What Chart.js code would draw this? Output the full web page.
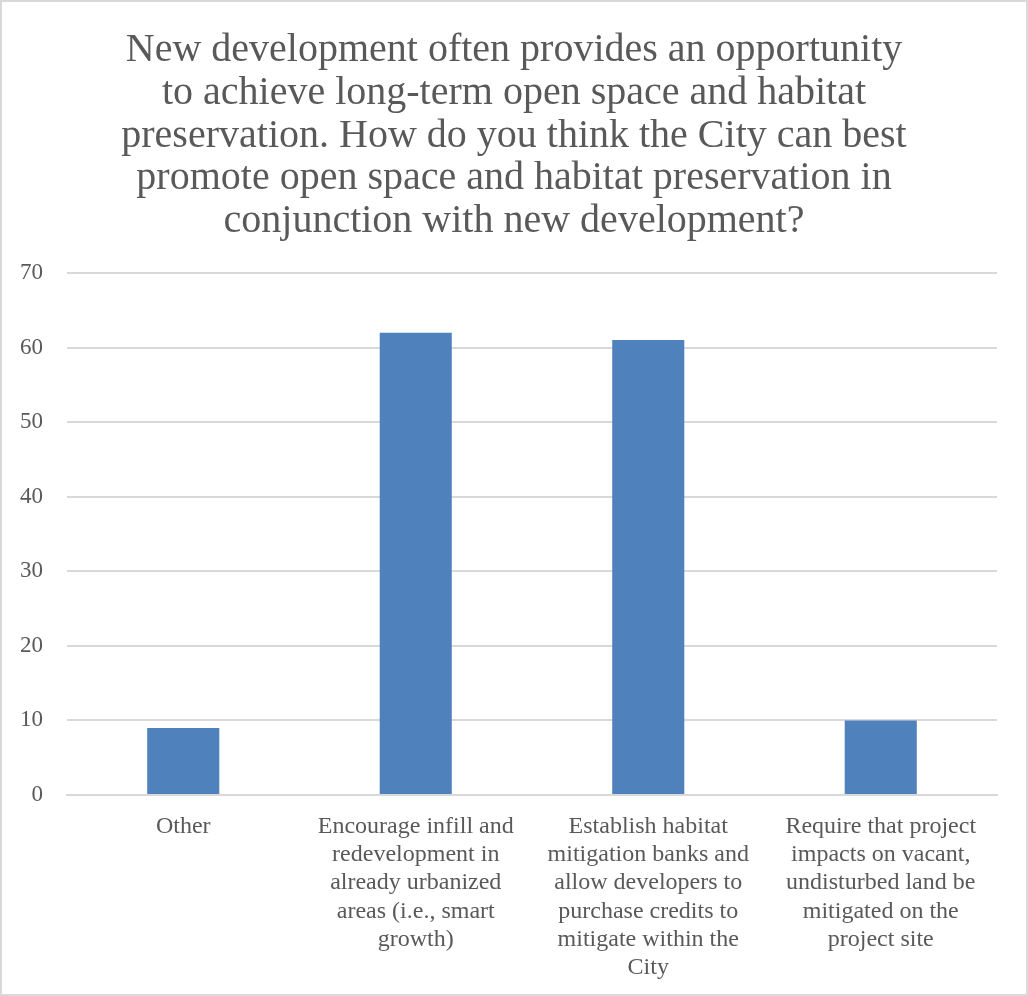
<!DOCTYPE html>
<html>
<head>
<meta charset="utf-8">
<script src="https://cdn.jsdelivr.net/npm/chart.js@4/dist/chart.umd.min.js"></script>
<style>
html,body{margin:0;padding:0;background:#fff;}
#wrap{width:1028px;height:996px;position:relative;}
</style>
</head>
<body>
<div id="wrap"><canvas id="c" width="1028" height="996"></canvas></div>
<script>
const titleLines = [
  "New development often provides an opportunity",
  "to achieve long-term open space and habitat",
  "preservation. How do you think the City can best",
  "promote open space and habitat preservation in",
  "conjunction with new development?"
];
const categories = [
  ["Other"],
  ["Encourage infill and", "redevelopment in", "already urbanized", "areas (i.e., smart", "growth)"],
  ["Establish habitat", "mitigation banks and", "allow developers to", "purchase credits to", "mitigate within the", "City"],
  ["Require that project", "impacts on vacant,", "undisturbed land be", "mitigated on the", "project site"]
];
const values = [9, 62, 61, 10];
const yTicks = [0, 10, 20, 30, 40, 50, 60, 70];

const FONT = "'Liberation Serif', 'DejaVu Serif', serif";
const TXT = "#595959";
const GRID = "#d9d9d9";

const borderPlugin = {
  id: 'outerBorder',
  afterDraw(chart) {
    const ctx = chart.ctx;
    ctx.save();
    ctx.strokeStyle = "#d9d9d9";
    ctx.lineWidth = 2;
    ctx.strokeRect(1, 1, chart.width - 2, chart.height - 2);
    ctx.restore();
  }
};

new Chart(document.getElementById('c'), {
  type: 'bar',
  data: {
    labels: categories,
    datasets: [{
      data: values,
      backgroundColor: "#4f81bd",
      borderWidth: 0,
      categoryPercentage: 1.0,
      barPercentage: 0.31
    }]
  },
  options: {
    responsive: false,
    animation: false,
    devicePixelRatio: 1,
    layout: { padding: 0 },
    plugins: {
      legend: { display: false },
      tooltip: { enabled: false },
      title: {
        display: true,
        text: titleLines,
        color: TXT,
        font: { family: FONT, size: 40, weight: 'normal', lineHeight: 1.07 },
        padding: { top: 29, bottom: 30 }
      }
    },
    scales: {
      x: {
        grid: { display: false, drawTicks: false },
        border: { display: true, color: GRID, width: 2 },
        ticks: {
          color: TXT,
          font: { family: FONT, size: 24, lineHeight: 1.17 },
          padding: 18,
          autoSkip: false,
          maxRotation: 0,
          minRotation: 0
        },
        afterFit(scale) { scale.height = 201; }
      },
      y: {
        min: 0,
        max: 70,
        afterBuildTicks(scale) { scale.ticks = yTicks.map(v => ({ value: v })); },
        grid: { color: GRID, lineWidth: 2, drawTicks: false },
        border: { display: false },
        ticks: {
          color: TXT,
          font: { family: FONT, size: 23 },
          padding: 24
        },
        afterFit(scale) { scale.width = 67; }
      },
      yRight: {
        type: 'linear',
        position: 'right',
        display: true,
        grid: { display: false, drawTicks: false },
        border: { display: false },
        ticks: { display: false },
        afterFit(scale) { scale.width = 31; }
      }
    }
  },
  plugins: [borderPlugin]
});
</script>
</body>
</html>
